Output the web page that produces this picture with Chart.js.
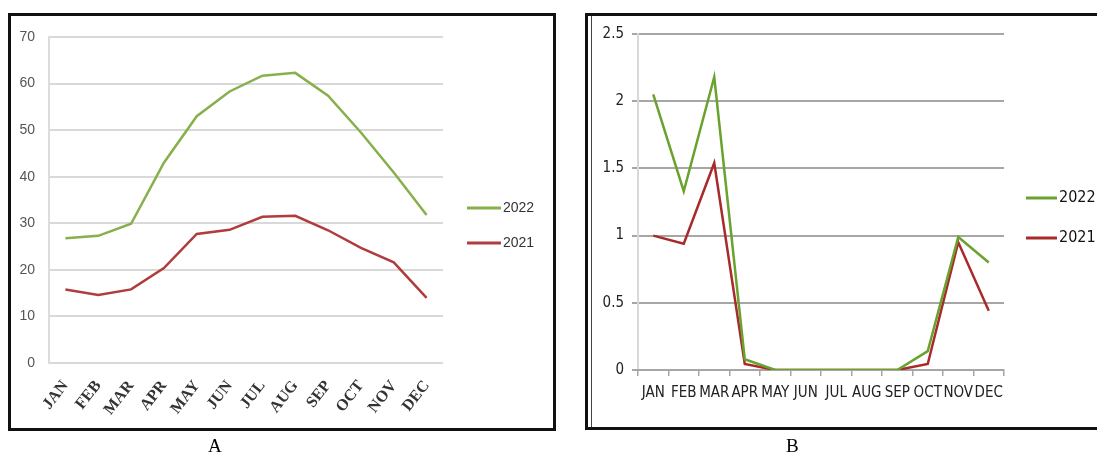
<!DOCTYPE html>
<html><head><meta charset="utf-8">
<script src="https://cdn.jsdelivr.net/npm/chart.js@4.4.1/dist/chart.umd.min.js"></script>
<style>
html,body{margin:0;padding:0;background:#fff;width:1097px;height:457px;overflow:hidden;position:relative;}
.box{position:absolute;box-sizing:border-box;}
#boxA{left:8px;top:13px;width:548px;height:418px;border:3px solid #111;}
#boxB{left:585px;top:13px;width:530px;height:417px;border:3px solid #111;border-right:none;}
#innerB{position:absolute;left:591px;top:16px;width:1px;height:411px;background:#444;}
#cA{position:absolute;left:0;top:0;}
#cB{position:absolute;left:590px;top:0;}
.cap{position:absolute;top:435px;font-family:'Liberation Serif','Times New Roman',serif;font-size:19px;color:#000;}
</style></head>
<body>
<div class="box" id="boxA"></div>
<div class="box" id="boxB"></div>
<div id="innerB"></div>
<canvas id="cA" width="560" height="440"></canvas>
<canvas id="cB" width="507" height="440"></canvas>
<div class="cap" style="left:208px">A</div>
<div class="cap" style="left:786px">B</div>
<script>
const months = ['JAN','FEB','MAR','APR','MAY','JUN','JUL','AUG','SEP','OCT','NOV','DEC'];
const seriesNames = ['2022','2021'];
const a2022 = [26.8,27.3,29.9,43.0,53.0,58.3,61.7,62.3,57.4,49.5,40.9,31.8];
const a2021 = [15.8,14.6,15.8,20.4,27.7,28.6,31.4,31.6,28.5,24.7,21.6,14.0];
const b2022 = [2.05,1.33,2.18,0.08,0,0,0,0,0,0.14,0.99,0.80];
const b2021 = [1.0,0.94,1.54,0.045,0,0,0,0,0,0.045,0.95,0.44];

const narrow = "'Liberation Sans Narrow','Arial Narrow','DejaVu Sans Condensed',sans-serif";

const sideLegend = {
  id:'sideLegend',
  afterDraw(chart, args, o){
    const ctx = chart.ctx;
    chart.data.datasets.forEach((ds,i)=>{
      const y = o.y + i*o.dy;
      ctx.save();
      ctx.strokeStyle = ds.borderColor; ctx.lineWidth = o.lw;
      ctx.beginPath(); ctx.moveTo(o.x,y); ctx.lineTo(o.x+o.len,y); ctx.stroke();
      ctx.fillStyle = o.color; ctx.font = o.font;
      ctx.textBaseline = 'middle'; ctx.textAlign = 'left';
      ctx.fillText(ds.label, o.x+o.len+o.gap, y);
      ctx.restore();
    });
  }
};

new Chart(document.getElementById('cA'), {
  type:'line',
  data:{labels:months, datasets:[
    {label:seriesNames[0], data:a2022, borderColor:'#86b04c', borderWidth:2.5, pointRadius:0, tension:0},
    {label:seriesNames[1], data:a2021, borderColor:'#b03c3c', borderWidth:2.5, pointRadius:0, tension:0}
  ]},
  options:{
    responsive:false, animation:false, devicePixelRatio:1,
    layout:{padding:{left:0,top:37,right:117,bottom:0}, autoPadding:false},
    plugins:{legend:{display:false}, tooltip:{enabled:false},
      sideLegend:{x:467,y:208,dy:35,len:34,gap:2,lw:3,color:'#333',font:"14px 'Liberation Sans',sans-serif"}},
    scales:{
      y:{min:0,max:70,
        ticks:{stepSize:10,padding:14,color:'#555',font:{family:"'Liberation Sans',sans-serif",size:14}},
        grid:{color:'#d9d9d9',lineWidth:2,drawTicks:false},
        border:{color:'#dcdcdc',width:2},
        afterFit(s){s.width=49;}},
      x:{offset:true,
        grid:{display:false,drawTicks:false},
        border:{display:false},
        ticks:{minRotation:52,maxRotation:52,autoSkip:false,padding:14,color:'#333',
          font:{family:"'Liberation Serif',serif",size:16,weight:'bold'}},
        afterFit(s){s.height=77;}}
    }
  },
  plugins:[sideLegend]
});

new Chart(document.getElementById('cB'), {
  type:'line',
  data:{labels:months, datasets:[
    {label:seriesNames[0], data:b2022, borderColor:'#6aa22e', borderWidth:2.5, pointRadius:0, tension:0},
    {label:seriesNames[1], data:b2021, borderColor:'#a82a2a', borderWidth:2.5, pointRadius:0, tension:0}
  ]},
  options:{
    responsive:false, animation:false, devicePixelRatio:1,
    layout:{padding:{left:0,top:34,right:93,bottom:0}, autoPadding:false},
    plugins:{legend:{display:false}, tooltip:{enabled:false},
      sideLegend:{x:436,y:198,dy:40,len:31,gap:2,lw:3,color:'#111',font:"16px "+narrow}},
    scales:{
      y:{min:0,max:2.5,
        ticks:{stepSize:0.5,padding:8,color:'#222',font:{family:narrow,size:15},
          callback:(v)=>String(Number(v.toFixed(1)))},
        grid:{color:'#a6a6a6',lineWidth:2,drawTicks:true,tickLength:6,tickColor:'#a6a6a6'},
        border:{color:'#d9d9d9',width:2},
        afterFit(s){s.width=48;}},
      x:{offset:true,
        grid:{drawOnChartArea:false,drawTicks:true,tickLength:6,color:'#a6a6a6',lineWidth:1.5,offset:true},
        border:{color:'#a6a6a6',width:2},
        ticks:{maxRotation:0,minRotation:0,autoSkip:false,padding:8,color:'#222',
          font:{family:narrow,size:15}},
        afterFit(s){s.height=70;}}
    }
  },
  plugins:[sideLegend]
});
</script>
</body></html>
